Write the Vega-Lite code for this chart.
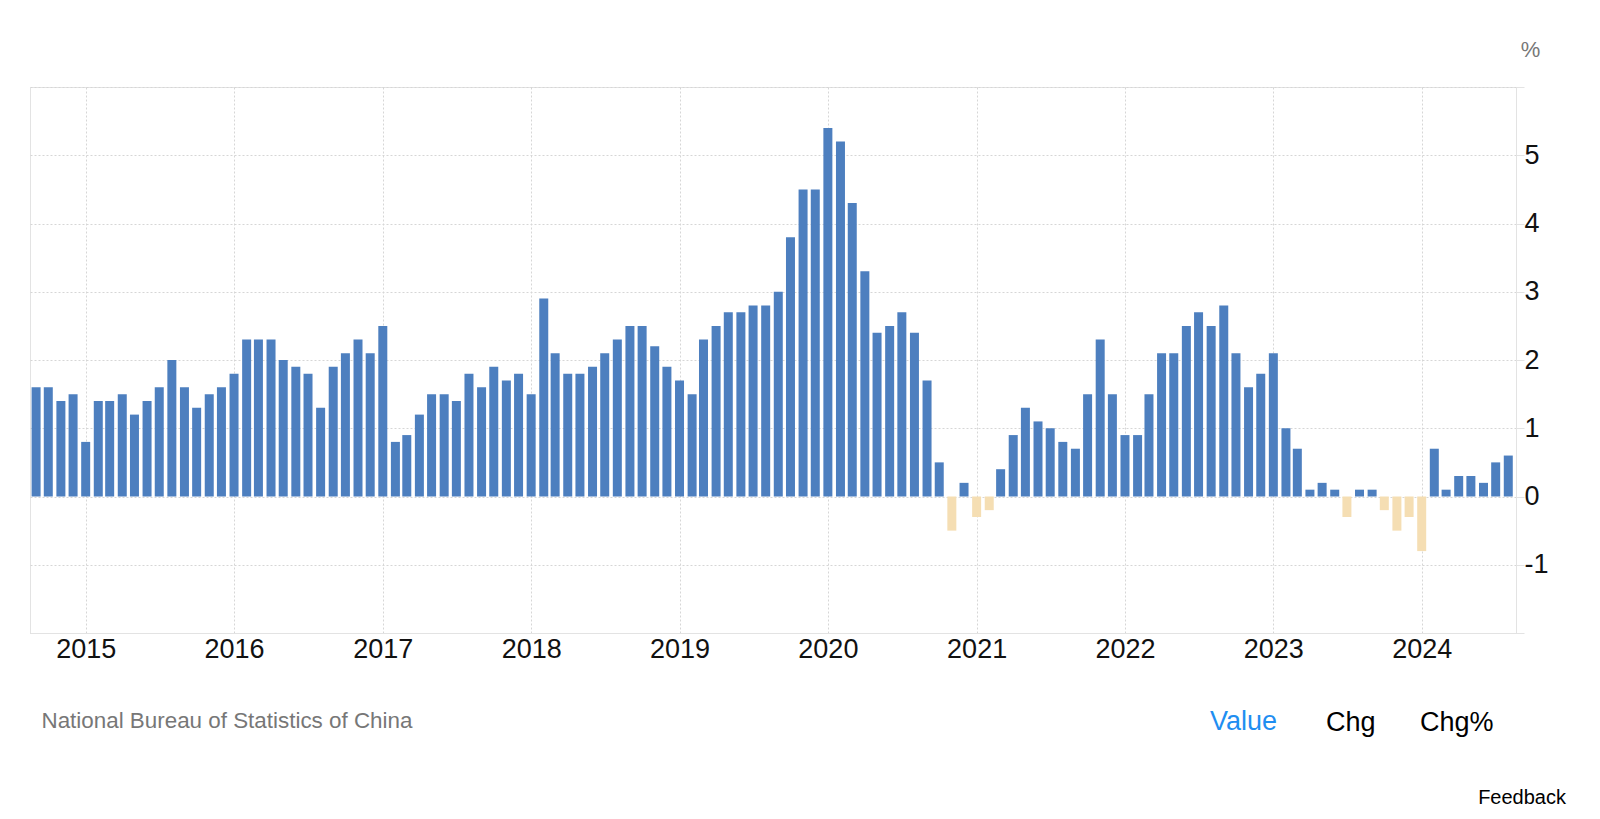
{
  "$schema": "https://vega.github.io/schema/vega-lite/v6.json",
  "width": 1486,
  "height": 546,
  "autosize": "none",
  "padding": {"left": 30, "top": 87, "right": 84, "bottom": 186},
  "background": "#ffffff",
  "config": {"font": "Liberation Sans", "view": {"stroke": "#e3e3e3", "strokeWidth": 1}},
  "title": {"text": "Feedback", "orient": "bottom", "anchor": "end", "frame": "group", "dx": 50, "offset": 52, "fontSize": 20, "fontWeight": "normal", "color": "#000000"},
  "datasets": {
    "cpi": [
      {"date": "2014-09-01", "value": 1.6}, {"date": "2014-10-01", "value": 1.6}, {"date": "2014-11-01", "value": 1.4}, {"date": "2014-12-01", "value": 1.5},
      {"date": "2015-01-01", "value": 0.8}, {"date": "2015-02-01", "value": 1.4}, {"date": "2015-03-01", "value": 1.4}, {"date": "2015-04-01", "value": 1.5},
      {"date": "2015-05-01", "value": 1.2}, {"date": "2015-06-01", "value": 1.4}, {"date": "2015-07-01", "value": 1.6}, {"date": "2015-08-01", "value": 2.0},
      {"date": "2015-09-01", "value": 1.6}, {"date": "2015-10-01", "value": 1.3}, {"date": "2015-11-01", "value": 1.5}, {"date": "2015-12-01", "value": 1.6},
      {"date": "2016-01-01", "value": 1.8}, {"date": "2016-02-01", "value": 2.3}, {"date": "2016-03-01", "value": 2.3}, {"date": "2016-04-01", "value": 2.3},
      {"date": "2016-05-01", "value": 2.0}, {"date": "2016-06-01", "value": 1.9}, {"date": "2016-07-01", "value": 1.8}, {"date": "2016-08-01", "value": 1.3},
      {"date": "2016-09-01", "value": 1.9}, {"date": "2016-10-01", "value": 2.1}, {"date": "2016-11-01", "value": 2.3}, {"date": "2016-12-01", "value": 2.1},
      {"date": "2017-01-01", "value": 2.5}, {"date": "2017-02-01", "value": 0.8}, {"date": "2017-03-01", "value": 0.9}, {"date": "2017-04-01", "value": 1.2},
      {"date": "2017-05-01", "value": 1.5}, {"date": "2017-06-01", "value": 1.5}, {"date": "2017-07-01", "value": 1.4}, {"date": "2017-08-01", "value": 1.8},
      {"date": "2017-09-01", "value": 1.6}, {"date": "2017-10-01", "value": 1.9}, {"date": "2017-11-01", "value": 1.7}, {"date": "2017-12-01", "value": 1.8},
      {"date": "2018-01-01", "value": 1.5}, {"date": "2018-02-01", "value": 2.9}, {"date": "2018-03-01", "value": 2.1}, {"date": "2018-04-01", "value": 1.8},
      {"date": "2018-05-01", "value": 1.8}, {"date": "2018-06-01", "value": 1.9}, {"date": "2018-07-01", "value": 2.1}, {"date": "2018-08-01", "value": 2.3},
      {"date": "2018-09-01", "value": 2.5}, {"date": "2018-10-01", "value": 2.5}, {"date": "2018-11-01", "value": 2.2}, {"date": "2018-12-01", "value": 1.9},
      {"date": "2019-01-01", "value": 1.7}, {"date": "2019-02-01", "value": 1.5}, {"date": "2019-03-01", "value": 2.3}, {"date": "2019-04-01", "value": 2.5},
      {"date": "2019-05-01", "value": 2.7}, {"date": "2019-06-01", "value": 2.7}, {"date": "2019-07-01", "value": 2.8}, {"date": "2019-08-01", "value": 2.8},
      {"date": "2019-09-01", "value": 3.0}, {"date": "2019-10-01", "value": 3.8}, {"date": "2019-11-01", "value": 4.5}, {"date": "2019-12-01", "value": 4.5},
      {"date": "2020-01-01", "value": 5.4}, {"date": "2020-02-01", "value": 5.2}, {"date": "2020-03-01", "value": 4.3}, {"date": "2020-04-01", "value": 3.3},
      {"date": "2020-05-01", "value": 2.4}, {"date": "2020-06-01", "value": 2.5}, {"date": "2020-07-01", "value": 2.7}, {"date": "2020-08-01", "value": 2.4},
      {"date": "2020-09-01", "value": 1.7}, {"date": "2020-10-01", "value": 0.5}, {"date": "2020-11-01", "value": -0.5}, {"date": "2020-12-01", "value": 0.2},
      {"date": "2021-01-01", "value": -0.3}, {"date": "2021-02-01", "value": -0.2}, {"date": "2021-03-01", "value": 0.4}, {"date": "2021-04-01", "value": 0.9},
      {"date": "2021-05-01", "value": 1.3}, {"date": "2021-06-01", "value": 1.1}, {"date": "2021-07-01", "value": 1.0}, {"date": "2021-08-01", "value": 0.8},
      {"date": "2021-09-01", "value": 0.7}, {"date": "2021-10-01", "value": 1.5}, {"date": "2021-11-01", "value": 2.3}, {"date": "2021-12-01", "value": 1.5},
      {"date": "2022-01-01", "value": 0.9}, {"date": "2022-02-01", "value": 0.9}, {"date": "2022-03-01", "value": 1.5}, {"date": "2022-04-01", "value": 2.1},
      {"date": "2022-05-01", "value": 2.1}, {"date": "2022-06-01", "value": 2.5}, {"date": "2022-07-01", "value": 2.7}, {"date": "2022-08-01", "value": 2.5},
      {"date": "2022-09-01", "value": 2.8}, {"date": "2022-10-01", "value": 2.1}, {"date": "2022-11-01", "value": 1.6}, {"date": "2022-12-01", "value": 1.8},
      {"date": "2023-01-01", "value": 2.1}, {"date": "2023-02-01", "value": 1.0}, {"date": "2023-03-01", "value": 0.7}, {"date": "2023-04-01", "value": 0.1},
      {"date": "2023-05-01", "value": 0.2}, {"date": "2023-06-01", "value": 0.1}, {"date": "2023-07-01", "value": -0.3}, {"date": "2023-08-01", "value": 0.1},
      {"date": "2023-09-01", "value": 0.1}, {"date": "2023-10-01", "value": -0.2}, {"date": "2023-11-01", "value": -0.5}, {"date": "2023-12-01", "value": -0.3},
      {"date": "2024-01-01", "value": -0.8}, {"date": "2024-02-01", "value": 0.7}, {"date": "2024-03-01", "value": 0.1}, {"date": "2024-04-01", "value": 0.3},
      {"date": "2024-05-01", "value": 0.3}, {"date": "2024-06-01", "value": 0.2}, {"date": "2024-07-01", "value": 0.5}, {"date": "2024-08-01", "value": 0.6}
    ],
    "tabs": [{"tab": "Chg"}, {"tab": "Chg%"}]
  },
  "layer": [
    {
      "data": {"name": "cpi"},
      "mark": {"type": "bar", "size": 9},
      "encoding": {
        "x": {
          "field": "date", "type": "temporal",
          "scale": {"type": "utc", "padding": 0, "nice": false, "domain": [{"year": 2014, "month": 8, "date": 17, "utc": true}, {"year": 2024, "month": 8, "date": 20, "utc": true}]},
          "axis": {
            "values": [
              {"year": 2015, "month": 1, "date": 1, "utc": true}, {"year": 2016, "month": 1, "date": 1, "utc": true},
              {"year": 2017, "month": 1, "date": 1, "utc": true}, {"year": 2018, "month": 1, "date": 1, "utc": true},
              {"year": 2019, "month": 1, "date": 1, "utc": true}, {"year": 2020, "month": 1, "date": 1, "utc": true},
              {"year": 2021, "month": 1, "date": 1, "utc": true}, {"year": 2022, "month": 1, "date": 1, "utc": true},
              {"year": 2023, "month": 1, "date": 1, "utc": true}, {"year": 2024, "month": 1, "date": 1, "utc": true}
            ],
            "format": "%Y", "formatType": "utc",
            "labelFontSize": 27, "labelColor": "#111111", "labelPadding": 3, "labelFlush": false,
            "ticks": false, "grid": true, "gridColor": "#d6d6d6", "gridDash": [2, 2],
            "domainColor": "#e3e3e3",
            "title": "National Bureau of Statistics of China",
            "titleX": 11, "titleY": 87, "titleAlign": "left", "titleBaseline": "middle",
            "titleFontSize": 22.4, "titleFontWeight": "normal", "titleColor": "#777777"
          }
        },
        "y": {
          "field": "value", "type": "quantitative",
          "scale": {"domain": [-2, 6], "nice": false, "padding": 0},
          "axis": {
            "orient": "right",
            "values": [-2, -1, 0, 1, 2, 3, 4, 5, 6],
            "labelExpr": "datum.value == 6 || datum.value == -2 ? '' : '' + datum.value",
            "labelFontSize": 27, "labelColor": "#111111", "labelPadding": 0,
            "tickSize": 8, "tickColor": "#e3e3e3",
            "grid": true, "gridColor": "#d6d6d6", "gridDash": [2, 2],
            "domainColor": "#e3e3e3",
            "title": "%", "titleAngle": 0, "titleX": 14, "titleY": -38,
            "titleAlign": "center", "titleBaseline": "middle",
            "titleFontSize": 22, "titleFontWeight": "normal", "titleColor": "#777777"
          }
        },
        "color": {"condition": {"test": "datum.value < 0", "value": "#f5deb3"}, "value": "#4d7fbf"}
      }
    },
    {
      "data": {"name": "tabs"},
      "mark": {"type": "point", "opacity": 0},
      "encoding": {
        "shape": {
          "field": "tab", "type": "nominal",
          "scale": {"domain": ["Chg", "Chg%"]},
          "legend": {
            "orient": "none", "legendX": 1180, "legendY": 622,
            "direction": "horizontal",
            "title": "Value", "titleOrient": "left", "titleColor": "#1f8ef1",
            "titleFontSize": 27, "titleFontWeight": "normal", "titlePadding": 21,
            "titleBaseline": "middle", "titleAnchor": "middle", "titleLimit": 0,
            "symbolOpacity": 0, "symbolSize": 1, "symbolStrokeWidth": 0,
            "labelFontSize": 27, "labelOffset": 0, "columnPadding": 17,
            "labelColor": "#000000", "labelLimit": 0
          }
        }
      }
    }
  ]
}
